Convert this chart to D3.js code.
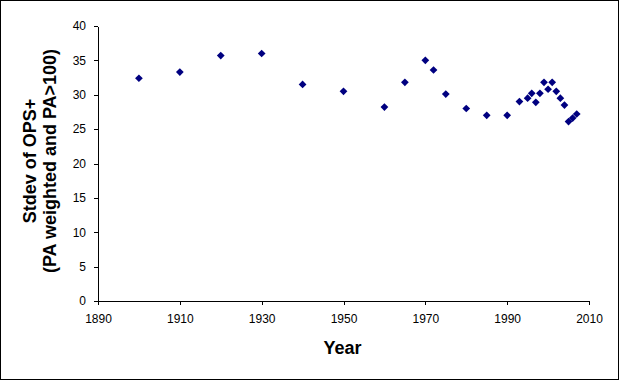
<!DOCTYPE html>
<html>
<head>
<meta charset="utf-8">
<script src="https://cdn.jsdelivr.net/npm/d3@7"></script>
<style>
  body { margin: 0; background: #fff; }
  svg { display: block; }
  text { font-family: "Liberation Sans", Arial, sans-serif; fill: #000; }
</style>
</head>
<body>
<div id="chart"></div>
<script>
// Data
const years = [1900, 1910, 1920, 1930, 1940, 1950, 1960, 1965, 1970, 1972, 1975, 1980, 1985,
               1990, 1993, 1995, 1996, 1997, 1998, 1999, 2000, 2001, 2002, 2003, 2004, 2005, 2006, 2007];
const stdev = [32.4, 33.3, 35.7, 36.0, 31.5, 30.5, 28.2, 31.8, 35.0, 33.6, 30.1, 28.0, 27.0,
               27.0, 29.0, 29.5, 30.2, 28.9, 30.2, 31.8, 30.8, 31.8, 30.5, 29.5, 28.5, 26.1, 26.6, 27.2];
const xTicks = [1890, 1910, 1930, 1950, 1970, 1990, 2010];
const yTicks = [0, 5, 10, 15, 20, 25, 30, 35, 40];

const W = 619, H = 380;
const margin = {top: 26, right: 30, bottom: 79, left: 98};
const width = W - margin.left - margin.right;
const height = H - margin.top - margin.bottom;

const svg = d3.select("#chart").append("svg")
    .attr("width", W)
    .attr("height", H);

// outer frame
svg.append("rect")
    .attr("x", 0.5).attr("y", 0.5)
    .attr("width", W - 1).attr("height", H - 1)
    .attr("fill", "#fff")
    .attr("stroke", "#000");

const g = svg.append("g")
    .attr("transform", `translate(${margin.left},${margin.top})`);

const x = d3.scaleLinear().domain([1890, 2010]).range([0, width]);
const y = d3.scaleLinear().domain([0, 40]).range([height, 0]);

// x axis
const xAxis = g.append("g")
    .attr("transform", `translate(0,${height})`)
    .call(d3.axisBottom(x).tickValues(xTicks).tickFormat(d3.format("d")).tickSize(4).tickPadding(9));

// y axis
const yAxis = g.append("g")
    .call(d3.axisLeft(y).tickValues(yTicks).tickSize(4).tickPadding(8));

[xAxis, yAxis].forEach(a => {
    a.select(".domain").attr("stroke", "#000").attr("shape-rendering", "crispEdges");
    a.selectAll(".tick line").attr("stroke", "#000").attr("shape-rendering", "crispEdges");
    a.selectAll(".tick text").attr("font-size", 12).attr("fill", "#000")
        .attr("font-family", "'Liberation Sans', Arial, sans-serif");
});
xAxis.select(".domain").attr("d", `M0.5,0H${width + 0.5}`);
yAxis.select(".domain").attr("d", `M0,0.5V${height + 4}`);

// points
const diamond = d3.symbol().type(d3.symbolSquare).size(30);
g.selectAll("path.pt")
    .data(years.map((yr, i) => ({yr, v: stdev[i]})))
    .enter().append("path")
    .attr("class", "pt")
    .attr("d", diamond)
    .attr("fill", "#000080")
    .attr("transform", d => `translate(${x(d.yr)},${y(d.v)}) rotate(45)`);

// axis titles
svg.append("text")
    .attr("x", margin.left + width / 2 - 1)
    .attr("y", 354)
    .attr("text-anchor", "middle")
    .attr("font-size", 18)
    .attr("font-weight", "bold")
    .text("Year");

const yTitle = svg.append("text")
    .attr("transform", `translate(36,161) rotate(-90)`)
    .attr("text-anchor", "middle")
    .attr("font-size", 18)
    .attr("font-weight", "bold");
yTitle.append("tspan").attr("x", 0).attr("dy", 0).text("Stdev of OPS+");
yTitle.append("tspan").attr("x", 0).attr("dy", 20).text("(PA weighted and PA>100)");
</script>
</body>
</html>
